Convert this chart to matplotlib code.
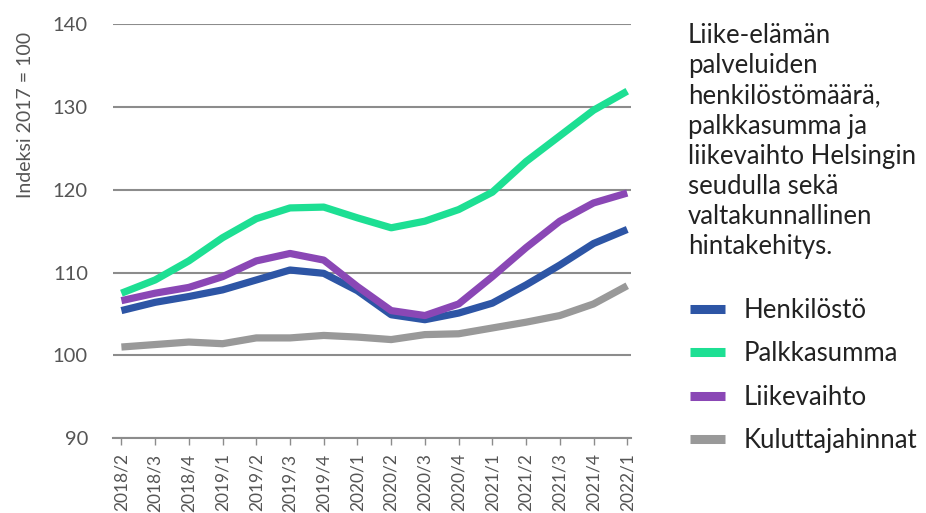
import matplotlib
matplotlib.use("Agg")
import matplotlib.pyplot as plt

# Kvartaalit
kvartaalit = ["2018/2", "2018/3", "2018/4", "2019/1", "2019/2", "2019/3", "2019/4",
              "2020/1", "2020/2", "2020/3", "2020/4", "2021/1", "2021/2", "2021/3",
              "2021/4", "2022/1"]

henkilosto = [105.4, 106.4, 107.1, 107.9, 109.1, 110.3, 109.9, 107.8, 104.9, 104.3,
              105.1, 106.3, 108.5, 110.9, 113.5, 115.2]
palkkasumma = [107.5, 109.1, 111.4, 114.2, 116.5, 117.8, 117.9, 116.6, 115.4, 116.2,
               117.6, 119.7, 123.4, 126.5, 129.6, 131.9]
liikevaihto = [106.6, 107.5, 108.2, 109.5, 111.4, 112.3, 111.5, 108.3, 105.4, 104.8,
               106.2, 109.5, 113.0, 116.2, 118.4, 119.6]
kuluttajahinnat = [101.0, 101.3, 101.6, 101.4, 102.1, 102.1, 102.4, 102.2, 101.9, 102.5,
                   102.6, 103.3, 104.0, 104.8, 106.2, 108.4]

y_tikit = [90, 100, 110, 120, 130, 140]

otsikko = ("Liike-elämän\npalveluiden\nhenkilöstömäärä,\npalkkasumma ja\n"
           "liikevaihto Helsingin\nseudulla sekä\nvaltakunnallinen\nhintakehitys.")

plt.rcParams["font.family"] = ["Lato", "DejaVu Sans"]

fig = plt.figure(figsize=(9.26, 5.13), dpi=100)
ax = fig.add_axes([0.122, 0.146, 0.559, 0.807])

x = range(len(kvartaalit))
lw = 5.2
ax.plot(x, kuluttajahinnat, color="#999999", lw=lw, label="Kuluttajahinnat", solid_capstyle="butt")
ax.plot(x, henkilosto, color="#2d55a5", lw=lw, label="Henkilöstö", solid_capstyle="butt")
ax.plot(x, liikevaihto, color="#8a47b5", lw=lw, label="Liikevaihto", solid_capstyle="butt")
ax.plot(x, palkkasumma, color="#1ddf93", lw=lw, label="Palkkasumma", solid_capstyle="butt")

ax.set_ylim(90, 140)
ax.set_xlim(-0.25, len(kvartaalit) - 1 + 0.1)
ax.set_yticks(y_tikit)
ax.yaxis.grid(True, color="#8c8c8c", lw=1.5)
ax.set_axisbelow(True)
for s in ["top", "right", "left"]:
    ax.spines[s].set_visible(False)
ax.spines["bottom"].set_color("#8c8c8c")
ax.spines["bottom"].set_linewidth(1.5)

ax.set_xticks(list(x))
ax.set_xticklabels(kvartaalit, rotation=90, fontsize=12.5, color="#555555")
ax.tick_params(axis="x", length=5, color="#8c8c8c", width=1, pad=6)
ax.tick_params(axis="y", length=0, pad=18, labelsize=14.5, labelcolor="#555555")

ax.set_ylabel("Indeksi 2017 = 100", fontsize=14, color="#555555")
ax.yaxis.set_label_coords(-0.152, 0.78)

fig.text(0.743, 0.955, otsikko, fontsize=18.5, color="#222222", va="top", ha="left",
         linespacing=1.26)

handles, labels = ax.get_legend_handles_labels()
jarj = [1, 3, 2, 0]
leg = fig.legend([handles[i] for i in jarj], [labels[i] for i in jarj],
                 loc="upper left", bbox_to_anchor=(0.72, 0.465), frameon=False,
                 fontsize=18.5, handlelength=1.35, handletextpad=0.75, labelspacing=0.72,
                 labelcolor="#222222")
for h in leg.get_lines():
    h.set_linewidth(6.5)

fig.savefig("out.png", dpi=100)
